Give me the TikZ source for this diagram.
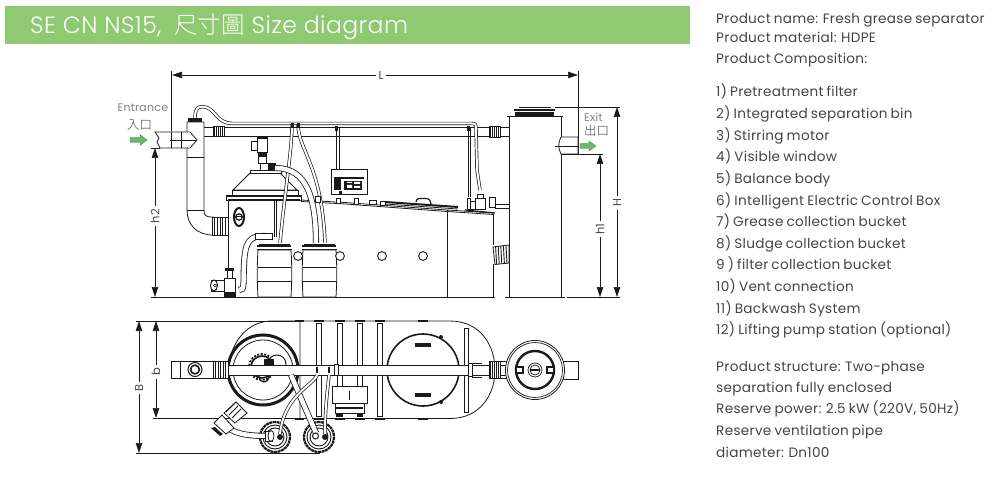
\documentclass[tikz,border=0pt]{standalone}
\usepackage{fontspec}
\setmainfont[LetterSpace=2.2,WordSpace=0.8]{Poppins}
\newfontfamily\titlef[LetterSpace=2]{Poppins Light}
\newfontfamily\cjk{Noto Sans CJK TC}
\newfontfamily\cjkl{Noto Sans CJK TC Light}
\usetikzlibrary{arrows.meta,calc}
\definecolor{hdr}{HTML}{8FCA72}
\definecolor{grn}{HTML}{6DB56D}
\definecolor{ink}{HTML}{1A1A1A}
\definecolor{txt}{HTML}{444444}
\tikzset{
 x=1pt,y=-1pt,
 part/.style={draw=ink,line width=0.8pt,fill=white},
 ln/.style={draw=ink,line width=0.8pt},
 dim/.style={draw=ink,line width=0.6pt,-{Triangle[length=10pt,width=6.5pt]}},
 ext/.style={draw=ink,line width=0.6pt},
 lab/.style={text=txt,font=\fontsize{11.5}{12}\selectfont,inner sep=2.5pt},
 lbl/.style={text=txt,font=\fontsize{10}{11}\selectfont,inner sep=0pt},
 info/.style={text=txt,anchor=base west,yshift=-4.6pt,inner sep=0pt,font=\fontsize{13.6}{14}\selectfont},
 hose/.style={draw=ink,line width=0.7pt,double=white,double distance=2pt},
 tube/.style={draw=ink,line width=0.8pt,double=white,double distance=4.5pt},
 flow/.style={fill=grn,draw=grn!70!black,line width=0.3pt},
}
\newcommand{\bellow}[4]{\fill[white] (#1,#2) rectangle (#3,#4);\draw[ink,line width=0.7pt] (#1,#2) rectangle (#3,#4);
 \foreach \k in {1,...,5}{\draw[ink,line width=0.8pt] ({#1+(#3-#1)*\k/6},#2) -- ({#1+(#3-#1)*\k/6},#4);}}
\begin{document}
\begin{tikzpicture}
\useasboundingbox (0,0) rectangle (997,484);
% header
\node[fill=hdr,minimum width=685pt,minimum height=38pt,inner sep=0pt,anchor=north west] (hdr) at (5,6) {};
\node[anchor=west,text=white,inner sep=0pt,font=\fontsize{23.5}{25}\selectfont] (title) at (30,26.5) {\titlef SE CN NS15,\hspace{13pt}{\cjkl 尺寸圖} Size diagram};
% info text
\node[info] (i1) at (716,19) {Product name: Fresh grease separator};
\node[info] (i2) at (716,38) {Product material: HDPE};
\node[info] (i3) at (716,59) {Product Composition:};
\node[info] (i4) at (716,92) {1) Pretreatment filter};
\node[info] (i5) at (716,114) {2) Integrated separation bin};
\node[info] (i6) at (716,136) {3) Stirring motor};
\node[info] (i7) at (716,157) {4) Visible window};
\node[info] (i8) at (716,179) {5) Balance body};
\node[info] (i9) at (716,201) {6) Intelligent Electric Control Box};
\node[info] (i10) at (716,222) {7) Grease collection bucket};
\node[info] (i11) at (716,244) {8) Sludge collection bucket};
\node[info] (i12) at (716,265) {9 ) filter collection bucket};
\node[info] (i13) at (716,287) {10) Vent connection};
\node[info] (i14) at (716,309) {11) Backwash System};
\node[info] (i15) at (716,330) {12) Lifting pump station (optional)};
\node[info] (i16) at (716,367) {Product structure: Two-phase};
\node[info] (i17) at (716,388) {separation fully enclosed};
\node[info] (i18) at (716,409) {Reserve power: 2.5 kW (220V, 50Hz)};
\node[info] (i19) at (716,431) {Reserve ventilation pipe};
\node[info] (i20) at (716,453) {diameter: Dn100};
%% ===== FRONT VIEW =====
% dimensions
\coordinate (Lb) at (172,75); \coordinate (Rb) at (578,75);
\node[lab] (Ll) at (381,75) {L};
\draw[dim] (Ll) -- (Lb); \draw[dim] (Ll) -- (Rb);
\draw[ext] (171.5,71) -- (171.5,131);
\draw[ext] (578,71) -- (578,155);
\node[lab,rotate=90] (h2l) at (155,216) {h2};
\coordinate (h2t) at (155,148); \coordinate (h2b) at (155,297);
\draw[dim] (h2l) -- (h2t); \draw[dim] (h2l) -- (h2b);
\node[lab,rotate=90] (h1l) at (600,229) {h1};
\coordinate (h1t) at (600,154); \coordinate (h1b) at (600,297);
\draw[dim] (h1l) -- (h1t); \draw[dim] (h1l) -- (h1b);
\node[lab,rotate=90] (Hl) at (617,203) {H};
\coordinate (Ht) at (617,107); \coordinate (Hb) at (617,297);
\draw[dim] (Hl) -- (Ht); \draw[dim] (Hl) -- (Hb);
\draw[ext] (555,107) -- (620,107);
\draw[ext] (561,154.5) -- (603,154.5);
\draw[ext] (567,297.5) -- (620,297.5);
\draw[ext] (151,148) -- (160,148);
% ground
\draw[ink,line width=1.2pt] (151,297.5) -- (495,297.5);
\draw[ink,line width=1.2pt] (505,297.5) -- (565,297.5);
% main horizontal pipe
\draw[ln] (204,127) -- (509,127);
\draw[ln] (204,136) -- (509,136);
\bellow{213}{126}{224}{136.5}
\bellow{489}{126}{500}{137}
% top vent hose
\draw[hose] (195,118) .. controls (195,106) and (200,105) .. (208,108) .. controls (216,112) and (218,123) .. (232,123.5) -- (472,123.5) .. controls (476,123.5) and (476,125) .. (476,128) -- (477,170) -- (480,190);
% hoses to pipes
\draw[ink,line width=0.9pt] (468,127) -- (468,197);
\draw[ink,line width=0.6pt] (470.5,127) -- (470.5,197);
\draw[ink,line width=0.7pt] (336,127) -- (336,170);
\draw[ink,line width=0.7pt] (339,127) -- (339,170);
\fill[ink] (335,126) rectangle (338,131);
\fill[ink] (467,126) rectangle (470,131);
% vertical pipe and elbow
\path[part] (187,122) -- (204,122) -- (204,210) .. controls (204,216) and (206,217) .. (213,217) -- (213,235) .. controls (197,235) and (187,225) .. (187,210) -- cycle;
\draw[ln] (187,157) -- (204,157);
\draw[ln] (187,210) -- (204,210);
\fill[ink] (188,118) rectangle (202,122);
% inlet pipe
\path[part] (155,132) -- (190,132) -- (197,140) -- (190,148) -- (160,148) -- (157,142) -- (159,138) -- cycle;
\draw[ln] (171,132) -- (171,148) (181,132) -- (181,148) (170,140) -- (197,140);
% bellows at elbow
\bellow{212}{217}{228}{235}
% tank body
\draw[ln] (228,200) -- (228,297);
\draw[ln] (301,200) -- (345,202.5) -- (447,210) -- (494,213);
\draw[ln] (301,201.5) -- (345,204) -- (447,211.5) -- (494,214.5);
\draw[ln] (447,210) -- (447,297);
\draw[ln] (493,214) -- (493,245) (493,264) -- (493,297);
% vent bellows to station
\path[part] (493,247) -- (509,245) -- (509,263) -- (495,264.5) -- cycle;
\foreach \k in {1,...,5}{\draw[ink,line width=0.9pt] ({493+\k*2.6},{246.5-\k*.2}) -- ({494+\k*2.6},{264.5-\k*.2});}
% cone
\path[part] (233,190) -- (250,173) -- (280,173) -- (297,190) -- cycle;
\path[part] (232,190) rectangle (298,195);
\path[part] (250,170.5) rectangle (281,173.5);
\path[part] (226,195) rectangle (301,200);
\draw[ink,line width=1.4pt] (226,196) -- (301,196);
\draw[ink,line width=1.4pt] (228,200) -- (300,200);
% motor
\path[part] (257,137) rectangle (267,152);
\path[part] (251,141) rectangle (257,150);
\fill[ink] (257,137) rectangle (267,139.5);
\path[part] (258,152) rectangle (266,163);
\fill[ink] (258,152) rectangle (266,157);
\draw[ln,fill=white] (260,163) rectangle (275,170);
\fill[ink] (268,164) rectangle (275,170);
% sight window
\draw[ink,line width=2pt,fill=white] (239,217) ellipse[x radius=5,y radius=9];
\draw[ink,line width=1.2pt] (239,217) circle[radius=3.2];
\draw[ink,line width=1pt] (235,217) -- (243,217);
% strut
\draw[ln] (274,200) -- (274,237) (276,200) -- (276,237);
% barrels
\foreach \bx [count=\i] in {258,303}{
 \path[part] (\bx,250) .. controls ({\bx-1},265) and ({\bx-1},280) .. (\bx,297) -- ({\bx+33},297) .. controls ({\bx+34},280) and ({\bx+34},265) .. ({\bx+33},250) -- cycle;
 \draw[ln] (\bx,267) -- ({\bx+33},267) (\bx,281) -- ({\bx+33},281);
 \draw[ink,line width=1.3pt] ({\bx-1},246) -- ({\bx+33},246);
 \draw[ln] ({\bx-1},249) -- ({\bx+34},249);
 \draw[ln] ({\bx+1},244) -- ({\bx+32},244);
}
% circles
\foreach \cx in {298,340,382,423}{\draw[ink,line width=0.9pt,fill=white] (\cx,256) circle[radius=4.4];}
% hoses
\draw[hose] (292,124) .. controls (292,150) and (285,190) .. (280,243);
\draw[hose] (298,124) .. controls (298,150) and (322,165) .. (325,243);
\draw[tube] (275,168) .. controls (300,168) and (316,185) .. (316,243);
\fill[ink] (290.5,123) rectangle (293.5,128);
\fill[ink] (296.5,123) rectangle (299.5,128);
\draw[tube] (239,290) .. controls (245,290) and (243,285) .. (244,265) .. controls (245,240) and (250,236) .. (265,236);
\path[part] (255,233) rectangle (272,239);
% valve
\path[part] (224,278) rectangle (235,292);
\path[part] (227,270) rectangle (232,278);
\fill[ink] (225,268) rectangle (234,271);
\fill[ink] (224,293) rectangle (236,298);
\path[part] (211,280) rectangle (224,291);
\draw[ink,line width=1pt,fill=white] (214,285.5) ellipse[x radius=3.5,y radius=5.5];
\draw[ink,line width=0.7pt] (215,285.5) circle[radius=1.5];
% control box
\draw[ink,line width=1pt,fill=white] (331,170) rectangle (367,195);
\fill[ink] (334,177) rectangle (364,179);
\fill[ink] (334,179) rectangle (341,190);
\fill[ink] (344,181) rectangle (362,190);
\fill[white] (347,182) rectangle (352,183) (354,182) rectangle (360,184) (347,185) rectangle (352,188) (354,186) rectangle (360,188);
\fill[ink] (339,191) rectangle (342,194);
\path[part] (336,198) rectangle (340,203);
\path[part] (354,198) rectangle (358,204);
\path[part] (315,196) rectangle (320,202);
\path[part] (380,201) rectangle (385,205);
\path[part] (369,200) rectangle (376,204);
% lid on tank
\draw[ink,line width=2pt] (385,202) -- (458,207);
\draw[ln] (385,204) -- (458,209);
\draw[ink,line width=1.2pt] (416,202) .. controls (417,198) and (418,198.5) .. (424,198.5) .. controls (429,198.5) and (430,199) .. (431,204);
% pump on right
\path[part] (475,198) rectangle (485,209);
\path[part] (477,194) rectangle (483,198);
\path[part] (467,198) rectangle (470,209);
\path[part] (489,197) rectangle (495,207);
\path[part] (470,201) rectangle (475,209);
\draw[ink,line width=1.2pt] (465,210) -- (495,213);
\draw[ln] (495,204) -- (509,204) (495,208) -- (509,208);
% station
\path[part] (509,116) rectangle (561,297);
\draw[ink,line width=1.2pt] (507,116.5) -- (563,116.5);
\fill[ink] (515,112) rectangle (554,116);
\draw[ink,line width=1.6pt] (514,110) -- (555,110);
\draw[ink,line width=1pt] (519,108) -- (551,108);
\fill[ink] (522,107) rectangle (548,108.5);
\path[part] (561,137) -- (578,137) -- (578,154) -- (561,154) .. controls (558,148) and (558,143) .. (561,137);
\draw[ln] (555,146) -- (578,146);
% flows
\draw[flow] (130,137.5) -- (140,137.5) -- (140,134.5) -- (147,140) -- (140,145.5) -- (140,142.5) -- (130,142.5) -- cycle;
\draw[flow] (580,143.5) -- (589,143.5) -- (589,141) -- (596,146) -- (589,151) -- (589,148.5) -- (580,148.5) -- cycle;
% labels
\node[lbl,text=gray,anchor=west] (ent) at (117.5,107.5) {\fontsize{11}{12}\selectfont Entrance};
\node[lbl,anchor=west] (inzh) at (127,125) {\cjkl\fontsize{12.5}{13}\selectfont 入口};
\node[lbl,text=gray,anchor=west] (ex) at (584,117) {\fontsize{11}{12}\selectfont Exit};
\node[lbl,anchor=west] (outzh) at (584,131) {\cjkl\fontsize{12.5}{13}\selectfont 出口};
%% ===== TOP VIEW =====
\node[lab,rotate=90] (Bl) at (139,388) {B};
\coordinate (Bt) at (139,321); \coordinate (Bb) at (139,453);
\draw[dim] (Bl) -- (Bt); \draw[dim] (Bl) -- (Bb);
\node[lab,rotate=90] (bl) at (156,372) {b};
\coordinate (bt) at (156,321); \coordinate (bb) at (156,418);
\draw[dim] (bl) -- (bt); \draw[dim] (bl) -- (bb);
\draw[ext] (136,321) -- (300,321);
\draw[ext] (153,418.5) -- (300,418.5);
\draw[ext] (136,453) -- (320,453);
% tank outline
\path[part] (300,321) -- (450,321) .. controls (480,321) and (495,345) .. (495,370) .. controls (495,395) and (480,418.5) .. (450,418.5) -- (300,418.5) -- cycle;
\draw[ln] (230,358) .. controls (236,335) and (252,321) .. (272,321) -- (300,321);
% bars
\foreach \bx in {319,339.5,360,380}{
 \draw[ln,fill=white] ({\bx-2.5},323) rectangle ({\bx+2.5},416);
 \fill[ink] ({\bx-5},320) rectangle ({\bx+5},321.5);
 \fill[ink] ({\bx-5},418) rectangle ({\bx+5},419.5);
}
\fill[ink] (295,320) rectangle (304,321.5);
\fill[ink] (295,418) rectangle (304,419.5);
\fill[ink] (418,320) rectangle (428,321.5);
\fill[ink] (418,418) rectangle (428,419.5);
\draw[ln,fill=white] (464,328) rectangle (468.5,412);
% large circles
\draw[ink,line width=3pt,fill=white] (263,370) circle[radius=35];
\draw[ink,line width=0.8pt] (263,370) circle[radius=30];
\draw[ink,line width=1.6pt,fill=white] (423,370) circle[radius=36];
\fill[ink] (415,343) rectangle (431,346.5);
\fill[ink] (415,393) rectangle (431,396.5);
\fill[ink] (441,337) circle[radius=2];
\fill[ink] (441,402) circle[radius=2];
% agitator
\draw[ink,line width=1.6pt,fill=white] (262,367) circle[radius=11];
\draw[ink,line width=1.8pt,dash pattern=on 2pt off 1.5pt] (262,367) circle[radius=13];
\draw[ink,line width=1pt,fill=white] (277,364) circle[radius=9];
\fill[ink] (264,359) rectangle (274,368);
\draw[ink,line width=1.2pt] (264,377) circle[radius=5];
% central bar
\path[part] (171,361.5) rectangle (215,378);
\draw[ln] (180,361.5) -- (180,378);
\draw[ink,line width=1pt,fill=white] (195,369.5) circle[radius=7];
\draw[ink,line width=1.6pt] (195,369.5) circle[radius=4.4];
\bellow{213}{361}{228}{378}
\path[part] (228,365) rectangle (468,375);
\draw[ink,line width=1pt] (228,365) -- (468,365) (228,375) -- (468,375);
\path[part] (468,363) rectangle (472,376);
\path[part] (472,365) rectangle (489,375);
\draw[ln] (472,363) -- (482,363) (472,377) -- (482,377);
\bellow{489}{361}{500}{378}
\path[part] (500,365) rectangle (509,375);
\draw[ln] (495,361) -- (509,361) (495,378) -- (509,378);
\path[part] (334,364) rectangle (338,375);
\fill[ink] (315.5,367) rectangle (317.5,373);
\fill[ink] (327.5,367) rectangle (329.5,373);
% control box top
\path[part] (332,386) rectangle (367,403);
\draw[ink,line width=1pt] (349,391) -- (349,400);
\path[part] (335,403) rectangle (364,413);
\draw[ink,line width=1.2pt] (336,408) -- (363,408);
\fill[ink] (336,414) rectangle (342,416.5);
\fill[ink] (357,414) rectangle (363,416.5);
% barrels top
\foreach \bx in {275,319}{
 \draw[ink,line width=2.2pt,dash pattern=on 3pt off .6pt,fill=white] (\bx,437) circle[radius=15];
 \draw[ink,line width=0.9pt] (\bx,437) circle[radius=12];
 \draw[ink,line width=0.9pt] (\bx,437) circle[radius=9];
}
% elbow + valve
\draw[tube] (225,425) .. controls (232,433) and (245,436) .. (268,436);
\draw[ln,fill=white] (265,431) rectangle (272,441);
\draw[ink,line width=0.8pt,fill=white] (271,436) ellipse[x radius=3,y radius=5.5];
\path[part] (222,415) -- (234,428) -- (226,434) -- (214,423) -- cycle;
\path[part] (224,413) -- (236,402) -- (247,413) -- (235,423) -- cycle;
\fill[ink] (215,427) -- (219,431) -- (223,434) -- (220,436) -- (211,428) -- cycle;
\foreach \k in {0,1,2}{\draw[ink,line width=.9pt] ({235+\k*3},{403+\k*3}) -- ({226+\k*3},{412+\k*3});}
% hoses top
\draw[tube] (291,375) -- (316,433);
\draw[hose] (317,375) .. controls (314,385) and (284,395) .. (280,434);
\draw[hose] (329,375) .. controls (327,395) and (325,410) .. (325,434);
\fill[ink] (280,437) circle[radius=3];
\draw[ink,line width=1pt,fill=white] (315.5,436) circle[radius=3];
\fill[ink] (325,437) circle[radius=3];
% station top
\draw[ln,fill=white] (563,361) rectangle (578,379);
\draw[ink,line width=0.8pt,fill=white] (535,370) circle[radius=29.5];
\draw[ink,line width=0.7pt] (535,370) circle[radius=27.5];
\draw[ink,line width=2.4pt] (535,370) circle[radius=19];
\draw[ink,line width=0.7pt] (535,370) circle[radius=7];
\draw[ink,line width=0.7pt] (535,370) circle[radius=5];
\draw[ink,line width=1.2pt] (530,370) -- (540,370);
\draw[ink,line width=1.6pt,fill=white] (516,367) rectangle (523,373);
\draw[ink,line width=1.6pt,fill=white] (547,367) rectangle (554,373);
\end{tikzpicture}
\end{document}
